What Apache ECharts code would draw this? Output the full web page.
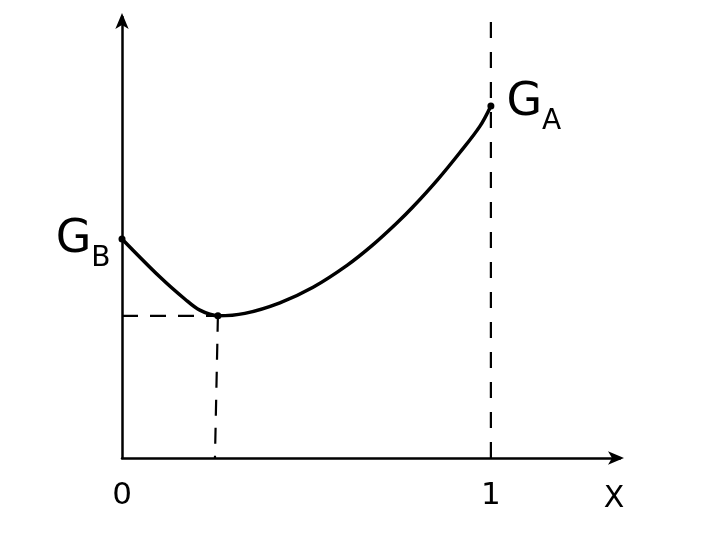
<!DOCTYPE html>
<html>
<head>
<meta charset="utf-8">
<script src="https://cdn.jsdelivr.net/npm/echarts@6/dist/echarts.min.js"></script>
<style>html,body{margin:0;padding:0;background:#fff}#c{width:720px;height:540px}</style>
</head>
<body>
<div id="c"></div>
<script>
// Curve G(x) (arbitrary units, G_A = 1)
const curveX = [0, 0.103, 0.171, 0.211, 0.26, 0.333, 0.428, 0.518, 0.61, 0.68, 0.745, 0.789, 0.854, 0.916, 0.97, 1.0];
const curveY = [0.621, 0.513, 0.450, 0.419, 0.403, 0.410, 0.440, 0.484, 0.546, 0.604, 0.666, 0.712, 0.787, 0.866, 0.940, 0.998];
// Marked points
const pointB = [0, 0.621];
const pointMin = [0.26, 0.403];
const pointMinFoot = [0.252, 0];
const pointA = [1.0, 0.998];
const tickLabels = ['0', '1'];
const xMax = 1.35, yMax = 1.25;

const curve = curveX.map((x, i) => [x, curveY[i]]);
const ink = '#000';

const chart = echarts.init(document.getElementById('c'));
chart.setOption({
  animation: false,
  backgroundColor: '#fff',
  grid: { left: 122, right: 100, top: 17, bottom: 82 },
  xAxis: {
    type: 'value', min: 0, max: xMax, interval: 1,
    splitLine: { show: false },
    axisLine: { lineStyle: { color: ink, width: 2.5 }, symbol: ['none', 'arrow'], symbolSize: [10, 16], symbolOffset: [0, 4] },
    axisTick: { show: false },
    axisLabel: {
      margin: 22, fontSize: 31, color: ink, fontFamily: 'DejaVu Sans',
      formatter: v => (v === 0 ? tickLabels[0] : (v === 1 ? tickLabels[1] : ''))
    },
    name: 'X', nameLocation: 'end', nameGap: -6,
    nameTextStyle: { fontSize: 30, color: ink, fontFamily: 'DejaVu Sans', align: 'center', verticalAlign: 'top', padding: [26, 0, 0, 0] }
  },
  yAxis: {
    type: 'value', min: 0, max: yMax,
    splitLine: { show: false },
    axisLine: { lineStyle: { color: ink, width: 2.5 }, symbol: ['none', 'arrow'], symbolSize: [10, 16], symbolOffset: [0, 4] },
    axisTick: { show: false },
    axisLabel: { show: false }
  },
  series: [
    {
      type: 'line', data: curve, smooth: 0.35, showSymbol: false,
      lineStyle: { color: ink, width: 3.5 }, z: 5
    },
    {
      type: 'line', data: [[0, pointMin[1]], pointMin], showSymbol: false,
      lineStyle: { color: ink, width: 2.2, type: [16, 12] }
    },
    {
      type: 'line', data: [pointMin, pointMinFoot], showSymbol: false,
      lineStyle: { color: ink, width: 2.2, type: [16, 12] }
    },
    {
      type: 'line', data: [[1, 0], [1, yMax]], showSymbol: false,
      lineStyle: { color: ink, width: 2.2, type: [16, 14] }
    },
    {
      type: 'scatter', symbolSize: 7, itemStyle: { color: ink, opacity: 1 }, z: 6,
      data: [
        { value: pointB, label: { show: true, position: 'left', distance: 10, offset: [2, 0], formatter: '{g|G}{s|B}' } },
        { value: pointMin },
        { value: pointA, label: { show: true, position: 'right', distance: 12, offset: [0, -4], formatter: '{g|G}{s|A}' } }
      ],
      label: {
        color: ink, opacity: 1, fontFamily: 'DejaVu Sans',
        rich: {
          g: { fontSize: 46, color: ink, fontFamily: 'DejaVu Sans', lineHeight: 48, verticalAlign: 'bottom' },
          s: { fontSize: 28, color: ink, fontFamily: 'DejaVu Sans', lineHeight: 48, verticalAlign: 'bottom', padding: [0, 0, -10, 0] }
        }
      }
    }
  ]
});
</script>
</body>
</html>
